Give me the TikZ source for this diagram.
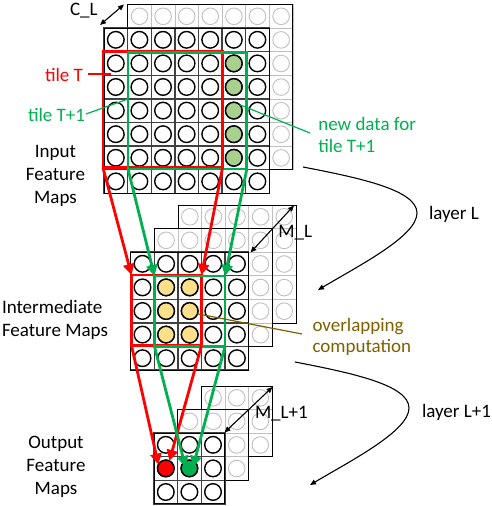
\documentclass[tikz,border=0pt]{standalone}
\usepackage{fontspec}
\setmainfont{Carlito}
\usetikzlibrary{arrows.meta}
\definecolor{tred}{HTML}{FF0000}
\definecolor{tgreen}{HTML}{00B050}
\definecolor{tbrown}{HTML}{7F6000}
\definecolor{lgreen}{HTML}{A9D18E}
\definecolor{lyellow}{HTML}{FFE08A}
\definecolor{cgrey}{HTML}{BFBFBF}
\def\cs{23.6}
\newcommand\fmlayer[5]{% x y cols rows kind(back/front)
  \begin{scope}[shift={(#1,#2)}]
    \fill[white] (0,0) rectangle ({#3*\cs},{#4*\cs});
    \foreach \i in {1,...,#3}{\foreach \j in {1,...,#4}{%
      \draw[#5cell] ({(\i-1)*\cs},{(\j-1)*\cs}) rectangle ({\i*\cs},{\j*\cs});
      \draw[#5circ] ({(\i-0.5)*\cs},{(\j-0.5)*\cs}) circle[radius=8.3pt];
    }}
    \draw[outerbox] (0,0) rectangle ({#3*\cs},{#4*\cs});
  \end{scope}}
\begin{document}
\begin{tikzpicture}[x=1pt,y=-1pt,
  every node/.style={inner sep=0pt, outer sep=0pt},
  lbl/.style={font=\fontsize{19}{23.3}\selectfont},
  lblr/.style={font=\fontsize{19}{21.7}\selectfont},
  backcell/.style={draw=cgrey, line width=0.8pt},
  backcirc/.style={draw=cgrey, line width=0.9pt},
  frontcell/.style={draw=black!75, line width=1.4pt},
  frontcirc/.style={draw=black, line width=1.4pt},
  outerbox/.style={draw=black, line width=1pt},
  dot/.style={circle, draw=black, line width=1.4pt, minimum size=16.6pt},
  tilebox/.style={draw, line width=2.8pt, anchor=north west},
  flow/.style={line width=2.8pt, -{Triangle[length=11pt,width=11pt]}},
  dim/.style={draw=black, line width=1.1pt, {Triangle[length=6pt,width=5pt]}-{Triangle[length=6pt,width=5pt]}},
  layerarrow/.style={draw=black, line width=1.1pt, -{Triangle[length=6pt,width=5pt]}},
  callout/.style={line width=1.2pt}]
\useasboundingbox (0,0) rectangle (492,506);

% ---------- input feature maps ----------
\fmlayer{127.7}{4.5}{7}{7}{back}
\fmlayer{104}{28}{7}{7}{front}
\foreach \j in {1,...,5}{
  \node[dot, fill=lgreen] (g\j) at ({104+5.5*\cs},{28+(\j+0.5)*\cs}) {};
}
\node[tilebox, draw=tred, minimum width=119.5pt, minimum height=116.6pt] (tT) at (103,51.2) {};
\node[tilebox, draw=tgreen, minimum width=118.8pt, minimum height=116.5pt] (tG) at (128,52.5) {};

% ---------- intermediate feature maps ----------
\fmlayer{178}{205}{5}{5}{back}
\fmlayer{154.3}{228.5}{5}{5}{back}
\fmlayer{130.7}{252}{5}{5}{front}
\foreach \i in {1,2}{\foreach \j in {1,2,3}{
  \node[dot, fill=lyellow] (y\i\j) at ({130.7+(\i+0.5)*\cs},{252+(\j+0.5)*\cs}) {};
}}
\node[tilebox, draw=tred, minimum width=70pt, minimum height=70.5pt] (iT) at (131.5,275) {};
\node[tilebox, draw=tgreen, minimum width=70.5pt, minimum height=70.5pt] (iG) at (154.5,276) {};

% ---------- output feature maps ----------
\fmlayer{201.3}{386}{3}{3}{back}
\fmlayer{177.7}{409.5}{3}{3}{back}
\fmlayer{154}{433}{3}{3}{front}
\node[dot, fill=tred] (oR) at ({154+0.5*\cs},{433+1.5*\cs}) {};
\node[dot, fill=tgreen] (oG) at ({154+1.5*\cs},{433+1.5*\cs}) {};
\coordinate (gtipL) at (185.5,467);
\coordinate (gtipR) at (193,467);

% ---------- tile flows ----------
\draw[flow, tred] (tT.south west) -- (iT.north west);
\draw[flow, tred] (tT.south east) -- (iT.north east);
\draw[flow, tgreen] (tG.south west) -- (iG.north west);
\draw[flow, tgreen] (tG.south east) -- (iG.north east);
\draw[flow, tred] (iT.south west) -- (oR.153);
\draw[flow, tred] (iT.south east) -- (oR.64);
\draw[flow, tgreen] (iG.south west) -- (gtipL);
\draw[flow, tgreen] (iG.south east) -- (gtipR);

% ---------- dimension arrows ----------
\coordinate (cl1) at (100,25);
\coordinate (cl2) at (124,4.5);
\draw[dim] (cl1) -- (cl2);
\coordinate (ml1) at (294,205.5);
\coordinate (ml2) at (250.5,252.5);
\draw[dim] (ml1) -- (ml2);
\coordinate (mm1) at (272.5,387);
\coordinate (mm2) at (224.5,432.5);
\draw[dim] (mm1) -- (mm2);

% ---------- layer arrows ----------
\coordinate (la1) at (303,167);
\coordinate (la2) at (318,290);
\draw[layerarrow] (la1) .. controls (360,178) and (417,190) .. (417,213) .. controls (417,236) and (360,265) .. (la2);
\coordinate (lb1) at (295,362);
\coordinate (lb2) at (310,485);
\draw[layerarrow] (lb1) .. controls (352,373) and (409,385) .. (409,408) .. controls (409,431) and (352,460) .. (lb2);

% ---------- labels ----------
\node[lbl, anchor=base west] (lCL) at (70,15) {C\_L};
\node[lbl, anchor=base west, text=tred] (lT) at (45,81) {tile T};
\node[lbl, anchor=base west, text=tgreen] (lT1) at (28,121.7) {tile T+1};
\node[lbl, anchor=base] (lIn) at (55.5,157) {\begin{tabular}[t]{@{}c@{}}Input\\Feature\\Maps\end{tabular}};
\node[lbl, anchor=base west] (lMid) at (2,313.3) {\begin{tabular}[t]{@{}l@{}}Intermediate\\Feature Maps\end{tabular}};
\node[lbl, anchor=base] (lOut) at (56,448.3) {\begin{tabular}[t]{@{}c@{}}Output\\Feature\\Maps\end{tabular}};
\node[lblr, anchor=base west, text=tgreen] (lNew) at (318.3,130.5) {\begin{tabular}[t]{@{}l@{}}new data for\\tile T+1\end{tabular}};
\node[lblr, anchor=base west, text=tbrown] (lOv) at (312.5,331) {\begin{tabular}[t]{@{}l@{}}overlapping\\computation\end{tabular}};
\node[lbl, anchor=base west] (lLL) at (429,219) {layer L};
\node[lbl, anchor=base west] (lLL1) at (422,417.7) {layer L+1};
\node[lbl, anchor=base west] (lML) at (278.3,237.7) {M\_L};
\node[lbl, anchor=base west] (lML1) at (255,418.3) {M\_L+1};

% ---------- callout lines ----------
\coordinate (cT) at (111,74);
\draw[callout, tred] (88,74) -- (cT);
\coordinate (cT1) at (128,99);
\draw[callout, tgreen] (86,114) -- (cT1);
\draw[callout, tgreen] (g3.45) -- (310,133);
\draw[callout, tbrown] (y22.-20) -- (302,334);
\end{tikzpicture}
\end{document}
